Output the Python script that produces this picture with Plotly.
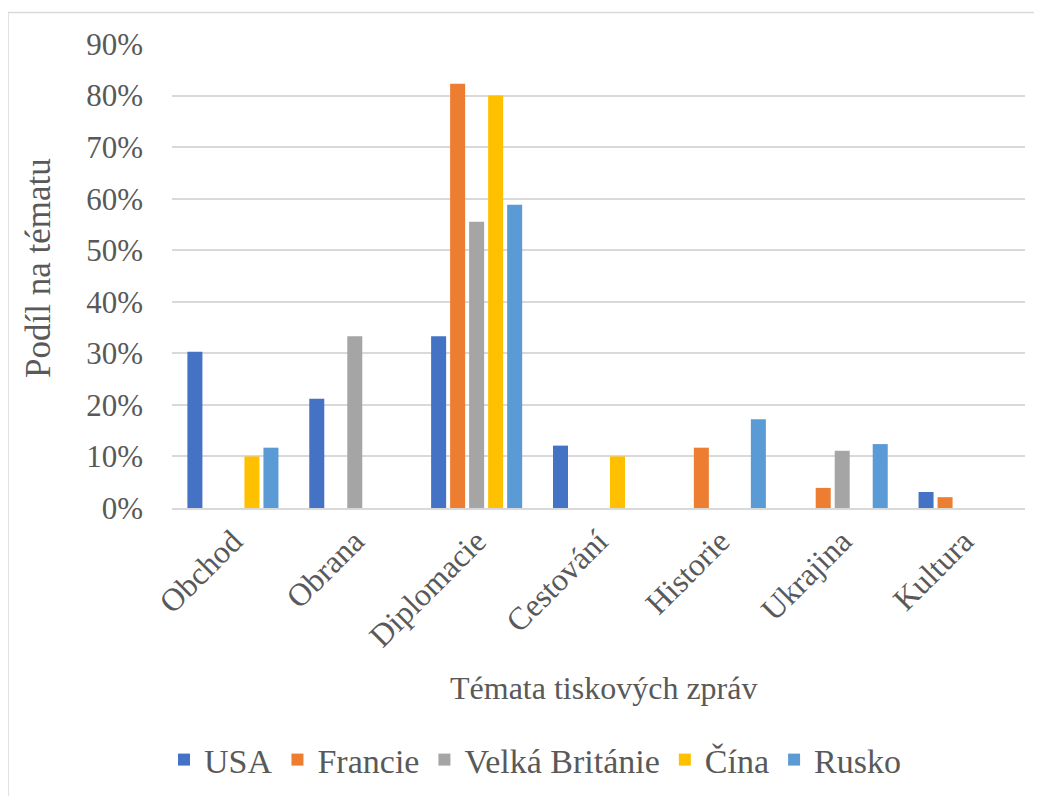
import plotly.graph_objects as go

categories = ["Obchod", "Obrana", "Diplomacie", "Cestování", "Historie", "Ukrajina", "Kultura"]
series_names = ["USA", "Francie", "Velká Británie", "Čína", "Rusko"]
usa = [0.303, 0.212, 0.333, 0.121, None, None, 0.031]
francie = [None, None, 0.823, None, 0.117, 0.039, 0.021]
velka_britanie = [None, 0.333, 0.555, None, None, 0.111, None]
cina = [0.10, None, 0.80, 0.10, None, None, None]
rusko = [0.117, None, 0.588, None, 0.172, 0.124, None]
colors = ["#4472C4", "#ED7D31", "#A5A5A5", "#FFC000", "#5B9BD5"]
y_ticks = [0, 0.1, 0.2, 0.3, 0.4, 0.5, 0.6, 0.7, 0.8, 0.9]

FONT = "Liberation Serif, Times New Roman, serif"
GREY = "#595959"

fig = go.Figure()
for name, vals, col in zip(series_names, [usa, francie, velka_britanie, cina, rusko], colors):
    fig.add_trace(go.Bar(name=name, x=categories, y=vals, marker=dict(color=col, line=dict(width=0))))

# page has an 8px body margin; work in page pixels and convert
OFF = 8
W, H = 1042 - OFF, 796 - OFF
PL, PR, PT, PB = 172, 1025, 44, 508  # plot area in page pixels
L, T = PL - OFF, PT - OFF
R = W - (PR - OFF)
B = H - (PB - OFF)
pw, ph = PR - PL, PB - PT

def px2paper_x(px):
    return (px - PL) / pw

def py2paper_y(py):
    return (PB - py) / ph

fig.update_layout(
    width=W, height=H,
    margin=dict(l=L, r=R, t=T, b=B, autoexpand=False),
    paper_bgcolor="white", plot_bgcolor="white",
    barmode="group", bargap=0.22, bargroupgap=0.21,
    font=dict(family=FONT, color=GREY, size=31),
    showlegend=True,
    legend=dict(orientation="h", x=px2paper_x(535), xanchor="center",
                y=py2paper_y(760), yanchor="middle",
                font=dict(family=FONT, size=34, color=GREY),
                itemwidth=30, tracegroupgap=0),
    xaxis=dict(tickangle=-45, tickfont=dict(family=FONT, size=32, color=GREY),
               showgrid=False, showline=True, linecolor="#d9d9d9", linewidth=1.5,
               ticks=""),
    yaxis=dict(range=[0, 0.9], tickvals=y_ticks, tickformat=".0%",
               tickfont=dict(family=FONT, size=31, color=GREY),
               showgrid=True, gridcolor="#d9d9d9", gridwidth=1.5,
               zeroline=False, showline=False, ticks="", ticklabelstandoff=28),
    annotations=[
        dict(text="Podíl na tématu", x=px2paper_x(38), y=py2paper_y(268),
             xref="paper", yref="paper", showarrow=False, textangle=-90,
             xanchor="center", yanchor="middle",
             font=dict(family=FONT, size=35, color=GREY)),
        dict(text="Témata tiskových zpráv", x=px2paper_x(603), y=py2paper_y(688),
             xref="paper", yref="paper", showarrow=False,
             xanchor="center", yanchor="middle",
             font=dict(family=FONT, size=32, color=GREY)),
    ],
    shapes=[dict(type="rect", xref="paper", yref="paper",
                 x0=px2paper_x(8), x1=px2paper_x(1060),
                 y0=py2paper_y(820), y1=py2paper_y(12.5),
                 line=dict(color="#d9d9d9", width=1.5), layer="below")],
)

fig.write_html("out.html")
